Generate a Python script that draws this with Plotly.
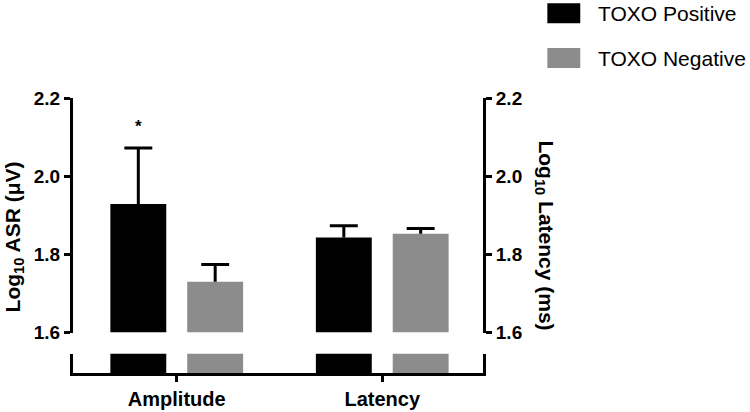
import plotly.graph_objects as go

# ---- data ----
categories = ["Amplitude", "Latency"]
series_names = ["TOXO Positive", "TOXO Negative"]
positive_means = [1.929, 1.843]
positive_sem = [0.143, 0.030]
negative_means = [1.730, 1.853]
negative_sem = [0.044, 0.013]
significance = ["*", ""]
y_ticks = [1.6, 1.8, 2.0, 2.2]

colors = ["#000000", "#8C8C8C"]
means = [positive_means, negative_means]
sems = [positive_sem, negative_sem]

# ---- layout geometry (pixels) ----
W, H = 750, 412
L, R, T, B = 72.5, 483.5, 98, 373.5
pw, ph = R - L, B - T
def px(x):
    return (x - L) / pw
def py(y):
    return (B - y) / ph

# category spacing in pixels: centre of category 0 at 176.5 px, 206 px per category
cat0_px, cat_step = 176.5, 206.0
x_range = [(L - cat0_px) / cat_step, (R - cat0_px) / cat_step]

offsets = [-0.187, 0.187]
bar_w = 0.272
cap_half = 0.068

fig = go.Figure()

for si in range(2):
    for ci, cat in enumerate(categories):
        yax = "y" if ci == 0 else "y2"
        xc = ci + offsets[si]
        m = means[si][ci]
        e = sems[si][ci]
        # upper bar (from axis minimum)
        fig.add_trace(go.Bar(x=[xc], y=[m - y_ticks[0]], base=[y_ticks[0]], width=[bar_w],
                             marker=dict(color=colors[si], line=dict(width=0)),
                             xaxis="x", yaxis=yax, showlegend=False, hoverinfo="skip"))
        # lower (broken) bar segment
        fig.add_trace(go.Bar(x=[xc], y=[1], base=[0], width=[bar_w],
                             marker=dict(color=colors[si], line=dict(width=0)),
                             xaxis="x", yaxis="y3", showlegend=False, hoverinfo="skip"))
        # one-sided error bar: stem and cap
        fig.add_trace(go.Scatter(x=[xc, xc, None, xc - cap_half, xc + cap_half],
                                 y=[m, m + e, None, m + e, m + e],
                                 mode="lines", line=dict(color="black", width=3),
                                 xaxis="x", yaxis=yax, showlegend=False, hoverinfo="skip"))
        if si == 0 and significance[ci]:
            fig.add_annotation(x=xc, y=m + e, xref="x", yref=yax, text="<b>" + significance[ci] + "</b>",
                               showarrow=False, yanchor="bottom", yshift=10,
                               font=dict(size=17, color="black", family="Liberation Sans"))

axis_common = dict(showgrid=False, zeroline=False, showline=True, linecolor="black", linewidth=3,
                   ticks="outside", ticklen=6, tickwidth=3, tickcolor="black",
                   range=[y_ticks[0], y_ticks[-1]], tickvals=y_ticks,
                   ticktext=["<b>%.1f</b>" % v for v in y_ticks],
                   domain=[py(333), 1.0], automargin=False)

fig.update_layout(
    template="none",
    width=W, height=H,
    margin=dict(l=L, r=W - R, t=T, b=H - B, autoexpand=False),
    paper_bgcolor="white", plot_bgcolor="white",
    barmode="overlay",
    showlegend=False,
    font=dict(family="Liberation Sans", color="black"),
    xaxis=dict(range=x_range, anchor="y3", showgrid=False, zeroline=False,
               showline=True, linecolor="black", linewidth=3, automargin=False,
               ticks="outside", ticklen=6, tickwidth=3, tickcolor="black",
               tickvals=list(range(len(categories))),
               ticktext=["<b>%s</b>" % c for c in categories],
               tickfont=dict(size=20, family="Liberation Sans", color="black")),
    yaxis=dict(**axis_common, side="left", anchor="x",
               tickfont=dict(size=19, family="Liberation Sans", color="black")),
    yaxis2=dict(**axis_common, side="right", overlaying="y", anchor="x",
                tickfont=dict(size=19, family="Liberation Sans", color="black")),
    yaxis3=dict(domain=[0, py(354)], range=[0, 1], showgrid=False, zeroline=False,
                showline=True, mirror=True, linecolor="black", linewidth=3, automargin=False,
                showticklabels=False, ticks="", anchor="x"),
)

# axis titles
fig.add_annotation(x=px(13), y=py(237), xref="paper", yref="paper",
                   text="<b>Log<sub>10</sub> ASR (μV)</b>", textangle=-90, showarrow=False,
                   xanchor="center", yanchor="middle",
                   font=dict(size=21, family="Liberation Sans", color="black"))
fig.add_annotation(x=px(546), y=py(236), xref="paper", yref="paper",
                   text="<b>Log<sub>10</sub> Latency (ms)</b>", textangle=90, showarrow=False,
                   xanchor="center", yanchor="middle",
                   font=dict(size=21, family="Liberation Sans", color="black"))

# custom legend
legend_rows = [(3, 23, 13), (48, 68, 58)]
for si, name in enumerate(series_names):
    y0, y1, yc = legend_rows[si]
    fig.add_shape(type="rect", xref="paper", yref="paper",
                  x0=px(548), x1=px(581), y0=py(y1), y1=py(y0),
                  fillcolor=colors[si], line=dict(width=0))
    fig.add_annotation(x=px(597), y=py(yc), xref="paper", yref="paper", text=name,
                       showarrow=False, xanchor="left", yanchor="middle",
                       font=dict(size=21, family="Liberation Sans", color="black"))

fig.write_html("out.html", config={"displayModeBar": False},
               post_script="document.body.style.margin='0';")
